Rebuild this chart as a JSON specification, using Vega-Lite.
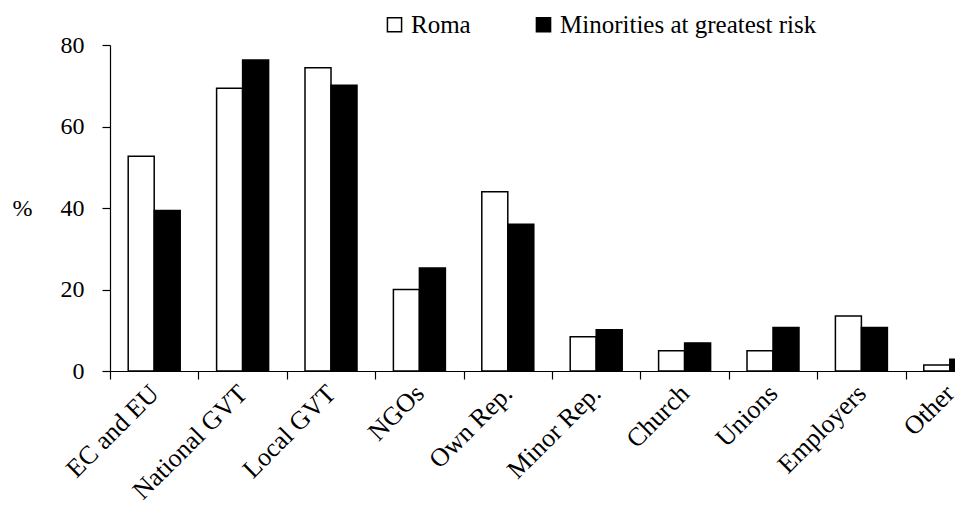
{
  "$schema": "https://vega.github.io/schema/vega-lite/v6.json",
  "autosize": {"type": "none"},
  "width": 845,
  "height": 326,
  "padding": {"left": 110, "top": 45, "right": 0, "bottom": 143},
  "background": "white",
  "config": {
    "view": {"stroke": null},
    "font": "Times New Roman, Liberation Serif, DejaVu Serif, serif",
    "axis": {"labelFont": "Times New Roman, Liberation Serif, DejaVu Serif, serif", "titleFont": "Times New Roman, Liberation Serif, DejaVu Serif, serif"},
    "legend": {"labelFont": "Times New Roman, Liberation Serif, DejaVu Serif, serif", "titleFont": "Times New Roman, Liberation Serif, DejaVu Serif, serif"}
  },
  "data": {
    "values": [
      {"category": "EC and EU", "group": "Roma", "value": 52.7},
      {"category": "EC and EU", "group": "Minorities at greatest risk", "value": 39.4},
      {"category": "National GVT", "group": "Roma", "value": 69.4},
      {"category": "National GVT", "group": "Minorities at greatest risk", "value": 76.3},
      {"category": "Local GVT", "group": "Roma", "value": 74.4},
      {"category": "Local GVT", "group": "Minorities at greatest risk", "value": 70.1},
      {"category": "NGOs", "group": "Roma", "value": 20.0},
      {"category": "NGOs", "group": "Minorities at greatest risk", "value": 25.3},
      {"category": "Own Rep.", "group": "Roma", "value": 44.0},
      {"category": "Own Rep.", "group": "Minorities at greatest risk", "value": 36.0},
      {"category": "Minor Rep.", "group": "Roma", "value": 8.4},
      {"category": "Minor Rep.", "group": "Minorities at greatest risk", "value": 10.1},
      {"category": "Church", "group": "Roma", "value": 5.0},
      {"category": "Church", "group": "Minorities at greatest risk", "value": 6.9},
      {"category": "Unions", "group": "Roma", "value": 5.0},
      {"category": "Unions", "group": "Minorities at greatest risk", "value": 10.7},
      {"category": "Employers", "group": "Roma", "value": 13.5},
      {"category": "Employers", "group": "Minorities at greatest risk", "value": 10.7},
      {"category": "Other", "group": "Roma", "value": 1.5},
      {"category": "Other", "group": "Minorities at greatest risk", "value": 2.9}
    ]
  },
  "mark": {"type": "bar", "stroke": "black", "strokeWidth": 1.5, "clip": true},
  "encoding": {
    "x": {
      "field": "category",
      "type": "nominal",
      "sort": null,
      "scale": {"paddingInner": 0, "paddingOuter": 0, "range": [0, 884]},
      "axis": {
        "title": null,
        "labelAngle": -45,
        "labelAlign": "right",
        "labelBaseline": "middle",
        "labelFontSize": 26,
        "labelColor": "black",
        "labelPadding": 10,
        "tickBand": "extent",
        "tickSize": 8,
        "tickColor": "black",
        "domainColor": "black",
        "domainWidth": 1.2,
        "tickWidth": 1.2,
        "grid": false
      }
    },
    "xOffset": {
      "field": "group",
      "type": "nominal",
      "sort": ["Roma", "Minorities at greatest risk"],
      "scale": {"paddingInner": 0, "paddingOuter": 0.7}
    },
    "y": {
      "field": "value",
      "type": "quantitative",
      "scale": {"domain": [0, 80]},
      "axis": {
        "values": [0, 20, 40, 60, 80],
        "title": "%",
        "titleAngle": 0,
        "titleFontSize": 24,
        "titleFontWeight": "normal",
        "titleColor": "black",
        "titleX": -98,
        "titleY": 163,
        "titleAlign": "left",
        "titleBaseline": "middle",
        "labelFontSize": 24,
        "labelColor": "black",
        "labelPadding": 18,
        "tickSize": 8,
        "tickColor": "black",
        "tickWidth": 1.2,
        "domainColor": "black",
        "domainWidth": 1.2,
        "grid": false
      }
    },
    "fill": {
      "field": "group",
      "type": "nominal",
      "sort": ["Roma", "Minorities at greatest risk"],
      "scale": {"domain": ["Roma", "Minorities at greatest risk"], "range": ["white", "black"]},
      "legend": {
        "title": null,
        "orient": "none",
        "direction": "horizontal",
        "legendX": 272,
        "legendY": -33,
        "symbolType": "square",
        "symbolSize": 200,
        "symbolStrokeColor": "black",
        "symbolStrokeWidth": 1.5,
        "labelFontSize": 25,
        "labelColor": "black",
        "labelOffset": 4,
        "columnPadding": 60,
        "labelLimit": 400
      }
    }
  }
}
